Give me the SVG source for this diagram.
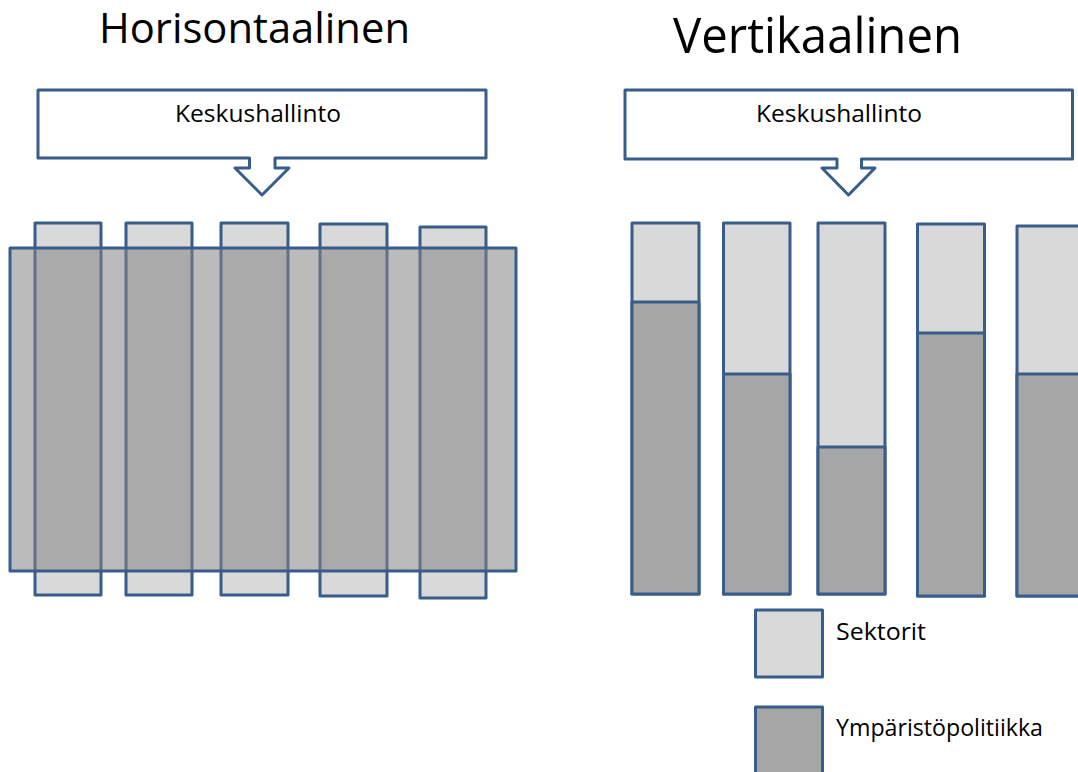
<svg xmlns="http://www.w3.org/2000/svg" width="1078" height="772" viewBox="0 0 1078 772">
<style>
.s{stroke:#385D8A;stroke-width:3;stroke-linejoin:round}
.w{fill:#FFFFFF}
.l{fill:#D9D9D9}
.d{fill:#A6A6A6}
.ov{fill:#848484;fill-opacity:0.55}
text{font-family:"Open Sans","Liberation Sans",sans-serif;fill:#000000}
.t{font-size:42px}
.tv{font-size:49px}
.k{font-size:23px}
.lg{font-size:23px}
</style>
<rect width="1078" height="772" fill="#FFFFFF"/>
<g id="title-horisontaalinen"><text class="t" x="99" y="43" textLength="311" lengthAdjust="spacingAndGlyphs">Horisontaalinen</text></g>
<g id="title-vertikaalinen"><text class="tv" x="673" y="53" textLength="289" lengthAdjust="spacingAndGlyphs">Vertikaalinen</text></g>

<g id="callout-left">
<path class="s w" d="M38,90 H486 V158 H275 V168 H289 L262,195 L235,168 H249.5 V158 H38 Z"/>
<text class="k" x="175" y="122" textLength="166" lengthAdjust="spacingAndGlyphs">Keskushallinto</text>
</g>
<g id="callout-right">
<path class="s w" d="M625,90 H1072.5 V159 H861.5 V168 H875 L848.5,195 L822,168 H837 V159 H625 Z"/>
<text class="k" x="756" y="121.7" textLength="166" lengthAdjust="spacingAndGlyphs">Keskushallinto</text>
</g>

<g id="horizontal">
<g id="h-bar-1"><rect class="s l" x="35" y="223" width="66" height="372"/></g>
<g id="h-bar-2"><rect class="s l" x="126" y="223" width="66" height="372"/></g>
<g id="h-bar-3"><rect class="s l" x="221" y="223" width="67" height="372"/></g>
<g id="h-bar-4"><rect class="s l" x="320" y="224" width="67" height="372"/></g>
<g id="h-bar-5"><rect class="s l" x="420" y="227" width="66" height="371"/></g>
<g id="h-policy"><rect class="s ov" x="10" y="248" width="506" height="323"/></g>
</g>

<g id="vertical">
<g id="v-bar-1"><rect class="s l" x="632" y="223" width="67" height="371"/><rect class="s d" x="632" y="302" width="67" height="292"/></g>
<g id="v-bar-2"><rect class="s l" x="723.5" y="223" width="66.5" height="371"/><rect class="s d" x="723.5" y="374" width="66.5" height="220"/></g>
<g id="v-bar-3"><rect class="s l" x="818" y="223" width="67" height="371"/><rect class="s d" x="818" y="447" width="67" height="147"/></g>
<g id="v-bar-4"><rect class="s l" x="917.5" y="224" width="67" height="372"/><rect class="s d" x="917.5" y="333" width="67" height="263"/></g>
<g id="v-bar-5"><rect class="s l" x="1017" y="226" width="67" height="370"/><rect class="s d" x="1017" y="374" width="67" height="222"/></g>
</g>

<g id="legend-sektorit">
<rect class="s l" x="755.5" y="610" width="67" height="67"/>
<text class="lg" x="836" y="640" textLength="90" lengthAdjust="spacingAndGlyphs">Sektorit</text>
</g>
<g id="legend-ymparistopolitiikka">
<rect class="s d" x="755.5" y="707" width="67" height="67"/>
<text class="lg" x="836" y="736" textLength="207" lengthAdjust="spacingAndGlyphs">Ympäristöpolitiikka</text>
</g>
</svg>
